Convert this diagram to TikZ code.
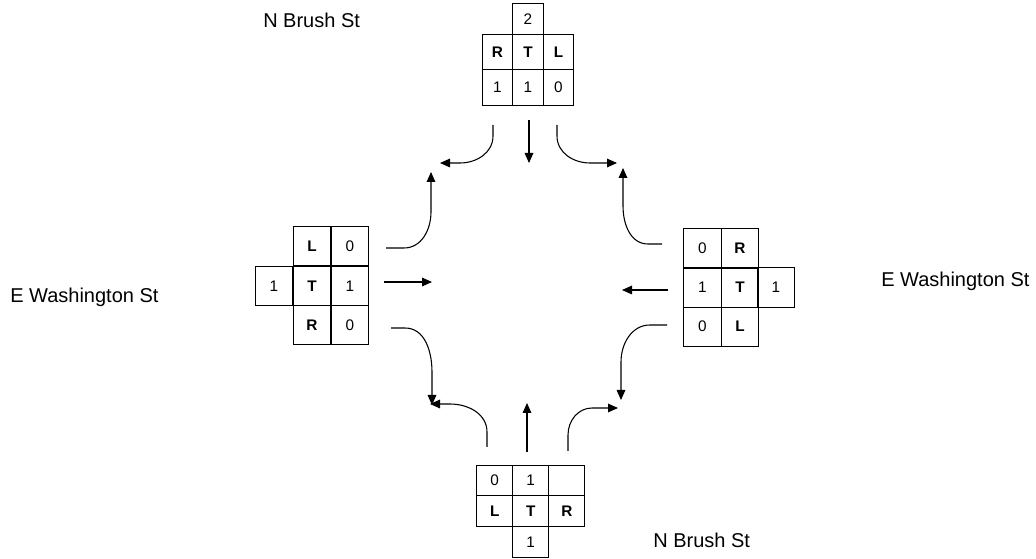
\documentclass[tikz,border=0pt]{standalone}
\usepackage{fontspec}
\setmainfont{Liberation Sans}
\usetikzlibrary{arrows.meta}

\begin{document}
\begin{tikzpicture}[x=0.75pt, y=-0.75pt,
		cell/.style={draw, line width=0.8pt, inner sep=0pt, font=\fontsize{11.5}{13}\selectfont},
		nscell/.style={cell, minimum width=22.9pt, minimum height=26.6pt},
		ewcell/.style={cell, minimum width=28.3pt, minimum height=29.4pt},
		sncell/.style={cell, minimum width=27pt, minimum height=23pt},
		street/.style={anchor=base west, inner sep=0pt, font=\fontsize{15}{18}\selectfont},
		move/.style={line width=0.8pt, -{Triangle[length=7.5pt,width=6.5pt]}}]
	\useasboundingbox (0,0) rectangle (1036,559);
	% Street names
	\node[street] (ntop) at (263,28) {N Brush St};
	\node[street] (nbot) at (653,548) {N Brush St};
	\node[street] (ewest) at (10,303) {E Washington St};
	\node[street] (eeast) at (881,287) {E Washington St};
	% Counts from the north
	\node[nscell, minimum height=23.25pt] (n2) at (528,18.8) {2};
	\foreach \pos/\name/\txt in {{(497.5,52.2)/nR/\textbf{R}}, {(528,52.2)/nT/\textbf{T}}, {(558.5,52.2)/nL/\textbf{L}},
			{(497.5,87.5)/nRv/1}, {(528,87.5)/nTv/1}, {(558.5,87.5)/nLv/0}}
		\node[nscell] (\name) at \pos {\txt};
	% Counts from the west
	\foreach \pos/\name/\txt in {{(312,246.3)/wL/\textbf{L}}, {(350,246.3)/wLv/0},
			{(274,286)/wx/1}, {(312,286)/wT/\textbf{T}}, {(350,286)/wTv/1},
			{(312,325)/wR/\textbf{R}}, {(350,325)/wRv/0}}
		\node[ewcell] (\name) at \pos {\txt};
	% Counts from the east
	\foreach \pos/\name/\txt in {{(702.5,248.5)/eRv/0}, {(740,248.5)/eR/\textbf{R}},
			{(702.5,287.5)/eTv/1}, {(740,287.5)/eT/\textbf{T}}, {(776,287.5)/ex/1},
			{(702.5,326.7)/eLv/0}, {(740,326.7)/eL/\textbf{L}}}
		\node[ewcell] (\name) at \pos {\txt};
	% Counts from the south
	\foreach \pos/\name/\txt in {{(494.7,480.5)/sLv/0}, {(530.7,480.5)/sTv/1}, {(566.8,480.5)/sRv/},
			{(494.7,511.3)/sL/\textbf{L}}, {(530.7,511.3)/sT/\textbf{T}}, {(566.8,511.3)/sR/\textbf{R}},
			{(530.7,542)/sx/1}}
		\node[sncell] (\name) at \pos {\txt};
	% Turning movements
	\draw[move] (493,125) -- (493,136) to[out=-90,in=0] (460,163) -- (440,163);
	\draw[move] (529,120) -- (529,163);
	\draw[move] (557,125) -- (557,136) to[out=-90,in=180] (590,163) -- (617,163);
	\draw[move] (386,248) -- (404,248) to[out=0,in=-90] (431,212) -- (431,172);
	\draw[move] (384,282) -- (432,282);
	\draw[move] (391,328) -- (405,328) to[out=0,in=90] (432,372) -- (432,405);
	\draw[move] (487,447) -- (487,432) to[out=90,in=0] (450,404) -- (430,404);
	\draw[move] (527,452) -- (527,403);
	\draw[move] (568,451) -- (568,435) to[out=90,in=180] (592,408) -- (618,408);
	\draw[move] (667,325) -- (650,325) to[out=180,in=90] (621,362) -- (621,400);
	\draw[move] (668,290) -- (622,290);
	\draw[move] (662,244) -- (648,244) to[out=180,in=-90] (623,206) -- (623,168);
\end{tikzpicture}
\end{document}
